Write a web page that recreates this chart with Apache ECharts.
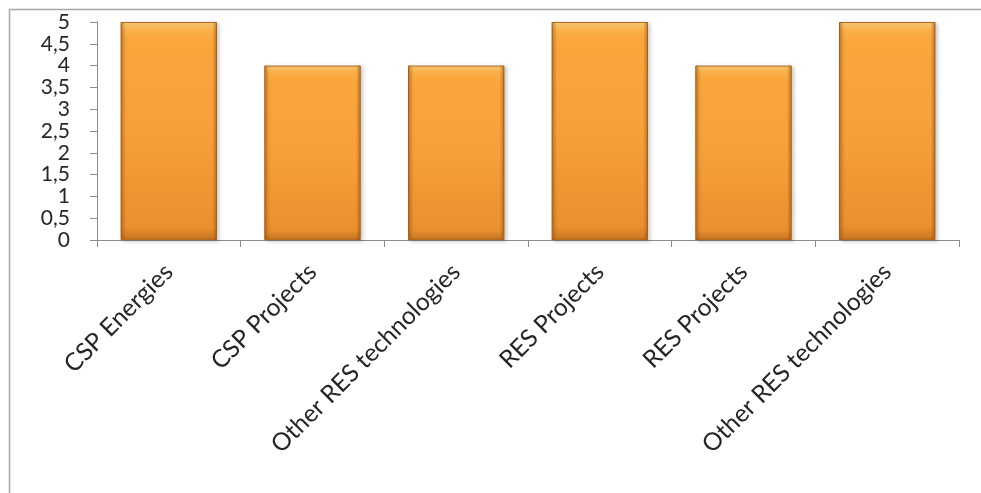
<!DOCTYPE html>
<html>
<head>
<meta charset="utf-8">
<script src="https://cdn.jsdelivr.net/npm/echarts@6/dist/echarts.min.js"></script>
<style>
  html, body { margin: 0; padding: 0; background: #ffffff; }
  #chart { width: 981px; height: 493px; }
</style>
</head>
<body>
<div id="chart"></div>
<script>
// Category names along the horizontal axis
const categories = [
  'CSP Energies',
  'CSP Projects',
  'Other RES technologies',
  'RES Projects',
  'RES Projects',
  'Other RES technologies'
];

// Bar heights
const values = [5, 4, 4, 5, 4, 5];

// Value axis range and step
const yMin = 0;
const yMax = 5;
const yStep = 0.5;

const chart = echarts.init(document.getElementById('chart'), null, { renderer: 'canvas' });

// Orange bar body: light bevel at the top, slightly darker toward the base
const barFill = new echarts.graphic.LinearGradient(0, 0, 0, 1, [
  { offset: 0.0, color: '#FFD27A' },
  { offset: 0.035, color: '#FBB24C' },
  { offset: 0.08, color: '#F9A63D' },
  { offset: 0.5, color: '#F7A03A' },
  { offset: 0.94, color: '#EA902F' },
  { offset: 1.0, color: '#C87420' }
]);

// Darker side edges drawn over the body
const edgeFill = new echarts.graphic.LinearGradient(0, 0, 1, 0, [
  { offset: 0.0, color: 'rgba(150,80,10,0.55)' },
  { offset: 0.05, color: 'rgba(150,80,10,0.0)' },
  { offset: 0.95, color: 'rgba(150,80,10,0.0)' },
  { offset: 1.0, color: 'rgba(150,80,10,0.55)' }
]);

chart.setOption({
  animation: false,
  backgroundColor: '#ffffff',
  textStyle: { fontFamily: 'Lato, "Open Sans", sans-serif' },
  graphic: [
    {
      type: 'rect',
      left: 7,
      top: 7,
      shape: { width: 1100, height: 600 },
      style: { fill: 'none', stroke: '#a6a6a6', lineWidth: 1.5 },
      silent: true,
      z: -1
    }
  ],
  grid: {
    left: 97,
    right: 22,
    top: 22,
    bottom: 253,
    containLabel: false
  },
  xAxis: {
    type: 'category',
    data: categories,
    boundaryGap: true,
    axisLine: { show: true, lineStyle: { color: '#8c8c8c', width: 1 } },
    axisTick: { show: true, alignWithLabel: false, length: 7, lineStyle: { color: '#8c8c8c' } },
    axisLabel: {
      interval: 0,
      rotate: 45,
      margin: 28,
      fontSize: 24.5,
      color: '#262626',
      fontFamily: 'Lato, "Open Sans", sans-serif'
    },
    splitLine: { show: false }
  },
  yAxis: {
    type: 'value',
    min: yMin,
    max: yMax,
    interval: yStep,
    axisLine: { show: true, lineStyle: { color: '#8c8c8c', width: 1 } },
    axisTick: { show: true, length: 7, lineStyle: { color: '#8c8c8c' } },
    axisLabel: {
      margin: 27,
      fontSize: 21,
      color: '#262626',
      fontFamily: 'Lato, "Open Sans", sans-serif',
      formatter: function (v) { return String(v).replace('.', ','); }
    },
    splitLine: { show: false }
  },
  series: [
    {
      type: 'bar',
      data: values,
      barCategoryGap: '33%',
      barGap: '-100%',
      itemStyle: {
        color: barFill,
        borderColor: '#B8691E',
        borderWidth: 1,
        shadowColor: 'rgba(0,0,0,0.22)',
        shadowBlur: 4,
        shadowOffsetX: 2,
        shadowOffsetY: 1
      },
      silent: true
    },
    {
      type: 'bar',
      data: values,
      barCategoryGap: '33%',
      barGap: '-100%',
      itemStyle: { color: edgeFill },
      silent: true
    }
  ]
});
</script>
</body>
</html>
